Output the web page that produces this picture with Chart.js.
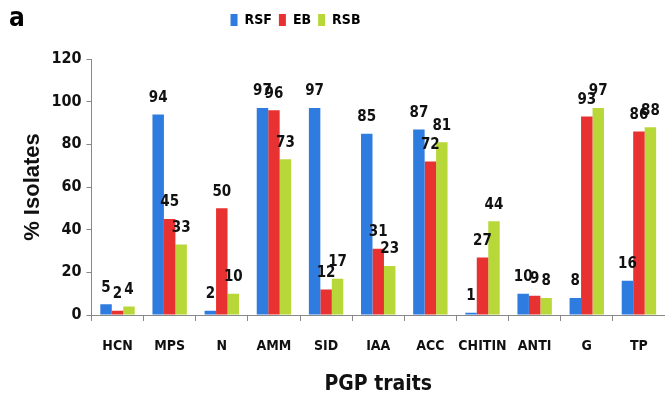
<!DOCTYPE html>
<html lang="en">
<head>
  <meta charset="UTF-8">
  <title>PGP traits</title>
  <script src="https://cdn.jsdelivr.net/npm/chart.js"></script>
  <style>
    body { margin: 0; background: #fff; }
    .wrap { position: relative; width: 665px; height: 408px; }
    .tag {
      position: absolute; left: 9px; top: 2px;
      font: bold 26px "DejaVu Sans Condensed", sans-serif;
      color: #000;
    }
  </style>
</head>
<body>
  <div class="wrap">
    <canvas id="chart" width="665" height="408"></canvas>
    <div class="tag">a</div>
  </div>
  <script>
    const traits = ['HCN', 'MPS', 'N', 'AMM', 'SID', 'IAA', 'ACC', 'CHITIN', 'ANTI', 'G', 'TP'];
    const rsf = [5, 94, 2, 97, 97, 85, 87, 1, 10, 8, 16];
    const eb = [2, 45, 50, 96, 12, 31, 72, 27, 9, 93, 86];
    const rsb = [4, 33, 10, 73, 17, 23, 81, 44, 8, 97, 88];
    const yTicks = [0, 20, 40, 60, 80, 100, 120];

    const narrow = '"DejaVu Sans Condensed", "Liberation Sans Narrow", sans-serif';

    // bar fill with a little shading so it looks like the old 3-D bars
    function shade(light, mid, dark) {
      return (ctx) => {
        const el = ctx.element;
        if (!el || el.width === undefined || !isFinite(el.x)) return mid;
        const g = ctx.chart.ctx.createLinearGradient(el.x - el.width / 2, 0, el.x + el.width / 2, 0);
        g.addColorStop(0, light);
        g.addColorStop(0.45, mid);
        g.addColorStop(1, dark);
        return g;
      };
    }

    const valueLabels = {
      id: 'valueLabels',
      afterDatasetsDraw(chart) {
        const c = chart.ctx;
        c.save();
        c.font = 'bold 15px ' + narrow;
        c.fillStyle = '#111';
        c.textAlign = 'center';
        c.textBaseline = 'bottom';
        chart.data.datasets.forEach((ds, i) => {
          chart.getDatasetMeta(i).data.forEach((bar, j) => {
            c.fillText(ds.data[j], bar.x, bar.y - 9);
          });
        });
        c.restore();
      }
    };

    // more room under the legend, and legend sits a bit left of centre
    const legendGap = {
      id: 'legendGap',
      beforeInit(chart) {
        const fit = chart.legend.fit;
        chart.legend.fit = function () {
          fit.bind(chart.legend)();
          this.height += 22;
        };
      },
      afterLayout(chart) {
        chart.legend.left -= 37;
        chart.legend.right -= 37;
      }
    };

    new Chart(document.getElementById('chart'), {
      type: 'bar',
      data: {
        labels: traits,
        datasets: [
          { label: 'RSF', data: rsf, backgroundColor: shade('#5fa2f0', '#2f7ce0', '#1f5bb0') },
          { label: 'EB', data: eb, backgroundColor: shade('#f76a6a', '#e83232', '#b51e1e') },
          { label: 'RSB', data: rsb, backgroundColor: shade('#d6ee6a', '#b8d83a', '#8fae22') }
        ]
      },
      options: {
        responsive: false,
        animation: false,
        layout: { padding: { left: 0, right: 0, top: 6, bottom: 7 } },
        datasets: { bar: { categoryPercentage: 0.66, barPercentage: 1 } },
        plugins: {
          legend: {
            position: 'top',
            labels: {
              boxWidth: 7, boxHeight: 12, padding: 7,
              color: '#111',
              font: { family: narrow, size: 14, weight: 'bold' },
              generateLabels(chart) {
                const solid = ['#2f7ce0', '#e83232', '#b8d83a'];
                return chart.data.datasets.map((ds, i) => ({
                  text: ds.label, fillStyle: solid[i], strokeStyle: solid[i],
                  lineWidth: 0, datasetIndex: i
                }));
              }
            }
          },
          tooltip: { enabled: false }
        },
        scales: {
          x: {
            grid: { drawOnChartArea: false, drawTicks: true, tickLength: 6, color: '#888' },
            border: { display: true, color: '#888' },
            ticks: {
              color: '#111', padding: 17, maxRotation: 0, autoSkip: false,
              font: { family: narrow, size: 14, weight: 'bold' }
            },
            title: {
              display: true, text: 'PGP traits', color: '#111', padding: { top: 0 },
              font: { family: narrow, size: 21, weight: 'bold' }
            }
          },
          y: {
            min: 0, max: 120,
            afterBuildTicks(axis) { axis.ticks = yTicks.map(v => ({ value: v })); },
            grid: { drawOnChartArea: false, drawTicks: true, tickLength: 5, color: '#888' },
            border: { display: true, color: '#888' },
            ticks: { color: '#111', padding: 5, font: { family: narrow, size: 16, weight: 'bold' } },
            title: {
              display: true, text: '% Isolates', color: '#111', padding: { top: 20, bottom: 0 },
              font: { family: '"Liberation Sans", Arial, sans-serif', size: 22, weight: 'bold' }
            }
          }
        }
      },
      plugins: [valueLabels, legendGap]
    });
  </script>
</body>
</html>
